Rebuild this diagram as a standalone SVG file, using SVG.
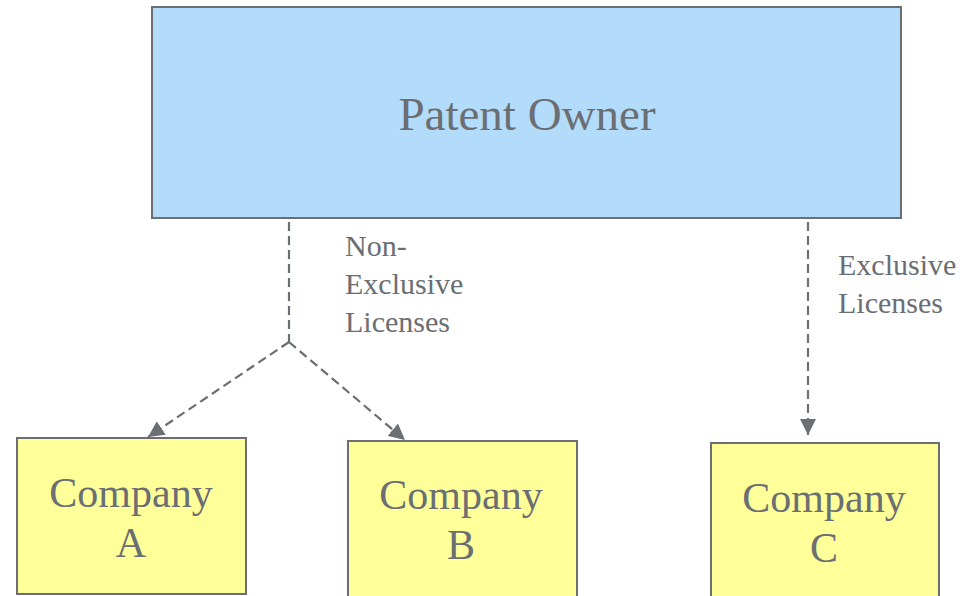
<svg xmlns="http://www.w3.org/2000/svg" width="967" height="596" viewBox="0 0 967 596">
<style>
.box{stroke:#6b6e72;stroke-width:2}
.owner{fill:#b3dbfa}
.comp{fill:#ffff99}
.t{fill:#6b6e72}
.conn{stroke:#6b6e72;stroke-width:2.2;fill:none;stroke-dasharray:9 5}
</style>
<defs>
<marker id="arr" viewBox="0 0 10 10" refX="10" refY="5" markerWidth="16" markerHeight="16" markerUnits="userSpaceOnUse" orient="auto">
<path d="M0,0 L10,5 L0,10 z" fill="#6b6e72"/>
</marker>
</defs>
<rect width="967" height="596" fill="#ffffff"/>
<g id="patent-owner">
<rect class="box owner" x="152" y="7" width="749" height="211"/>
<text class="t" x="527" y="130" font-family="Liberation Serif, Times New Roman, serif" font-size="47" text-anchor="middle">Patent Owner</text>
</g>
<g id="company-a">
<rect class="box comp" x="17" y="438" width="229" height="156"/>
<text class="t" x="131" y="507" font-family="Liberation Serif, Times New Roman, serif" font-size="42" text-anchor="middle">Company</text>
<text class="t" x="131" y="557" font-family="Liberation Serif, Times New Roman, serif" font-size="42" text-anchor="middle">A</text>
</g>
<g id="company-b">
<rect class="box comp" x="348" y="441" width="229" height="160"/>
<text class="t" x="461" y="509" font-family="Liberation Serif, Times New Roman, serif" font-size="42" text-anchor="middle">Company</text>
<text class="t" x="461" y="559" font-family="Liberation Serif, Times New Roman, serif" font-size="42" text-anchor="middle">B</text>
</g>
<g id="company-c">
<rect class="box comp" x="711" y="443" width="228" height="160"/>
<text class="t" x="824" y="512" font-family="Liberation Serif, Times New Roman, serif" font-size="42" text-anchor="middle">Company</text>
<text class="t" x="824" y="562" font-family="Liberation Serif, Times New Roman, serif" font-size="42" text-anchor="middle">C</text>
</g>
<g id="connectors">
<path class="conn" d="M289,222 L289,342"/>
<path class="conn" d="M289,342 L148,437" marker-end="url(#arr)"/>
<path class="conn" d="M289,342 L405,440" marker-end="url(#arr)"/>
<path class="conn" d="M808,222 L808,435" marker-end="url(#arr)"/>
</g>
<g id="labels">
<text class="t" x="345" y="256" font-family="Liberation Serif, Times New Roman, serif" font-size="30">Non-</text>
<text class="t" x="345" y="294" font-family="Liberation Serif, Times New Roman, serif" font-size="30">Exclusive</text>
<text class="t" x="345" y="332" font-family="Liberation Serif, Times New Roman, serif" font-size="30">Licenses</text>
<text class="t" x="838" y="275" font-family="Liberation Serif, Times New Roman, serif" font-size="30">Exclusive</text>
<text class="t" x="838" y="313" font-family="Liberation Serif, Times New Roman, serif" font-size="30">Licenses</text>
</g>
</svg>
